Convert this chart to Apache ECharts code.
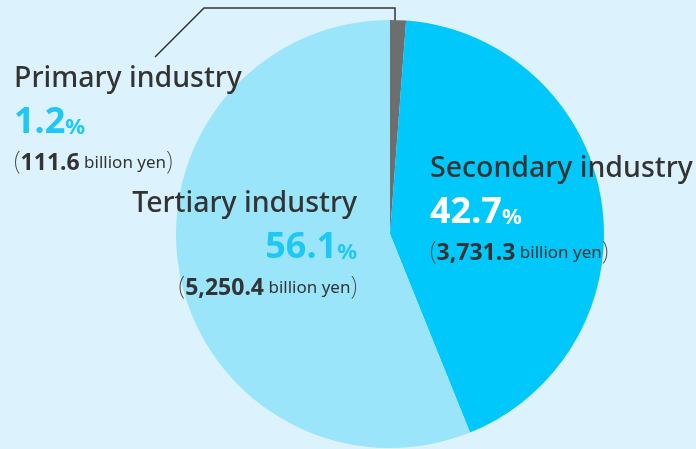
<!DOCTYPE html>
<html>
<head>
<meta charset="utf-8">
<script src="https://cdn.jsdelivr.net/npm/echarts@6/dist/echarts.min.js"></script>
<style>
  html, body { margin: 0; padding: 0; background: #dcf3fd; }
  #chart { width: 696px; height: 449px; }
</style>
</head>
<body>
<div id="chart"></div>
<script>
var names = ['Primary industry', 'Secondary industry', 'Tertiary industry']
var shares = [1.2, 42.7, 56.1]
var amounts = ['111.6', '3,731.3', '5,250.4']
var colors = ['#6e6e6e', '#00c8fa', '#9ae5fa']
var pctColors = ['#1ec8f5', '#ffffff', '#1ec8f5']

// where each label block sits (top-left or top-right corner)
var labelPos = [
  {x: 14, y: 57, align: 'left'},
  {x: 430, y: 147, align: 'left'},
  {x: 357, y: 182, align: 'right'}
]

function richFor (i) {
  return {
    n: {fontSize: 28.5, fontWeight: 500, color: '#333333', lineHeight: 44, fontFamily: 'Noto Sans'},
    p: {fontSize: 36, fontWeight: 'bold', color: pctColors[i], lineHeight: 44, fontFamily: 'Noto Sans'},
    pc: {fontSize: 22, fontWeight: 'bold', color: pctColors[i], lineHeight: 44, fontFamily: 'Noto Sans', padding: [9, 0, 0, 0]},
    br: {fontSize: 25, color: '#444444', lineHeight: 36, fontFamily: 'DejaVu Sans ExtraLight, Noto Sans', fontWeight: 200},
    v: {fontSize: 23, fontWeight: 'bold', color: '#333333', lineHeight: 36, fontFamily: 'Noto Sans'},
    u: {fontSize: 17, color: '#333333', lineHeight: 36, fontFamily: 'Noto Sans'}
  }
}

var data = names.map(function (name, i) {
  return {
    name: name,
    value: shares[i],
    itemStyle: {color: colors[i]},
    label: {
      show: true,
      position: i === 0 ? 'outside' : 'inside',
      formatter: '{n|' + name + '}\n{p|' + shares[i].toFixed(1) + '}{pc|%}\n{br|(}{v|' + amounts[i] + '}{u| billion yen}{br|)}',
      rich: richFor(i)
    },
    labelLine: {show: i === 0, lineStyle: {color: '#333333', width: 1.5}}
  }
})

var myChart = echarts.init(document.getElementById('chart'))
myChart.setOption({
  backgroundColor: '#dcf3fd',
  animation: false,
  series: [{
    type: 'pie',
    center: [390, 234],
    radius: 214,
    startAngle: 90,
    clockwise: true,
    silent: true,
    labelLine: {length: 10, length2: 10},
    labelLayout: function (params) {
      var p = labelPos[params.dataIndex]
      var out = {x: p.x, y: p.y, align: p.align, verticalAlign: 'top'}
      if (params.dataIndex === 0) {
        out.labelLinePoints = [[395, 25], [395, 8], [204, 8], [155, 57]]
      }
      return out
    },
    data: data
  }]
})
</script>
</body>
</html>
